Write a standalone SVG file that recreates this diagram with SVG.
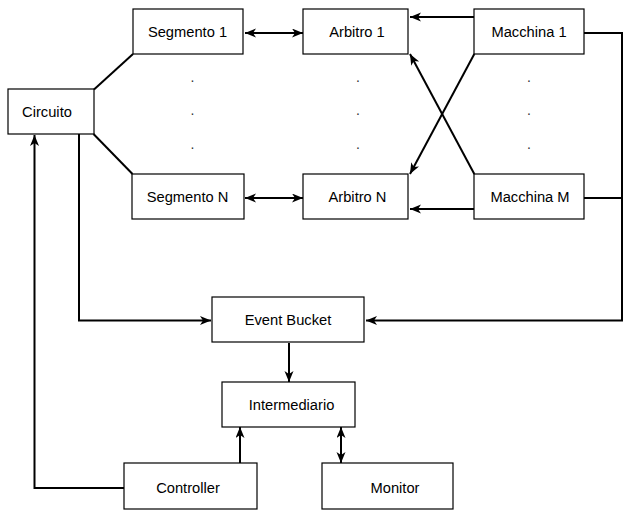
<svg xmlns="http://www.w3.org/2000/svg" width="632" height="519" viewBox="0 0 632 519">
<style>
.box{fill:#fff;stroke:#000;stroke-width:1.2}
.lbl{font-family:"Liberation Sans",Arial,sans-serif;font-size:14.7px;fill:#000;text-anchor:middle}
.dot{font-family:"Liberation Sans",Arial,sans-serif;font-size:14px;fill:#333;text-anchor:middle}
.c{fill:none;stroke:#000;stroke-width:2}
.a{marker-end:url(#ah)}
.aa{marker-start:url(#ah);marker-end:url(#ah)}
</style>
<defs>
<marker id="ah" markerUnits="userSpaceOnUse" markerWidth="12" markerHeight="10" refX="11" refY="4.5" orient="auto-start-reverse">
<path d="M0,0 L11,4.5 L0,9 L3,4.5 z" fill="#000"/>
</marker>
</defs>
<rect width="632" height="519" fill="#fff"/>
<g id="connectors">
<path class="c aa" d="M245,33 H303"/>
<path class="c aa" d="M245,198 H303"/>
<path class="c" d="M94,89.5 L133,54"/>
<path class="c" d="M93.5,134 L132.5,174"/>
<path class="c a" d="M474,17 H410"/>
<path class="c a" d="M474,209 H410"/>
<path class="c a" d="M474.3,54 L410,174"/>
<path class="c a" d="M474.3,174 L410,54"/>
<path class="c a" d="M584,33 H622 V320.5 H366"/>
<path class="c" d="M584,198 H622"/>
<path class="c a" d="M79,134 V320.5 H211"/>
<path class="c a" d="M289,343 V382"/>
<path class="c a" d="M240,463 V427"/>
<path class="c aa" d="M341,463 V427"/>
<path class="c a" d="M124,488 H34.5 V135"/>
</g>
<g id="circuito"><rect class="box" x="8" y="89" width="86" height="45"/><text class="lbl" x="47" y="117">Circuito</text></g>
<g id="segmento1"><rect class="box" x="133" y="9" width="110" height="45"/><text class="lbl" x="187.5" y="37">Segmento 1</text></g>
<g id="segmentoN"><rect class="box" x="132" y="174" width="112" height="45"/><text class="lbl" x="187.5" y="202">Segmento N</text></g>
<g id="arbitro1"><rect class="box" x="303" y="9" width="105" height="45"/><text class="lbl" x="357" y="37">Arbitro 1</text></g>
<g id="arbitroN"><rect class="box" x="303" y="174" width="105" height="45"/><text class="lbl" x="357.5" y="202">Arbitro N</text></g>
<g id="macchina1"><rect class="box" x="474" y="9" width="110" height="45"/><text class="lbl" x="529" y="37">Macchina 1</text></g>
<g id="macchinaM"><rect class="box" x="474" y="174" width="110" height="45"/><text class="lbl" x="530" y="202">Macchina M</text></g>
<g id="dots">
<text class="dot" x="192.5" y="82">.</text><text class="dot" x="192.5" y="115">.</text><text class="dot" x="192.5" y="149">.</text>
<text class="dot" x="358" y="82">.</text><text class="dot" x="358" y="115">.</text><text class="dot" x="358" y="149">.</text>
<text class="dot" x="529" y="82">.</text><text class="dot" x="529" y="115">.</text><text class="dot" x="529" y="149">.</text>
</g>
<g id="eventbucket"><rect class="box" x="212" y="297" width="152" height="45"/><text class="lbl" x="288" y="325">Event Bucket</text></g>
<g id="intermediario"><rect class="box" x="222" y="382" width="133" height="45"/><text class="lbl" x="291.5" y="410">Intermediario</text></g>
<g id="controller"><rect class="box" x="124" y="463" width="133" height="46"/><text class="lbl" x="188" y="493">Controller</text></g>
<g id="monitor"><rect class="box" x="322" y="463" width="131" height="46"/><text class="lbl" x="395" y="493">Monitor</text></g>
</svg>
